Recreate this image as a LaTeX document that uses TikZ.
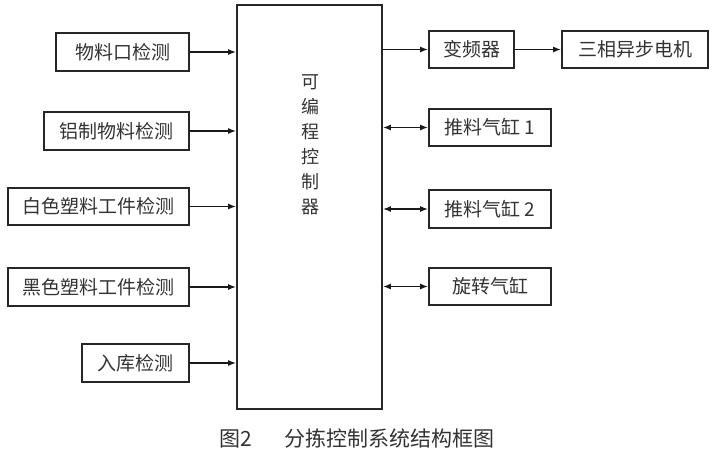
\documentclass[tikz,border=0pt]{standalone}
\usepackage{fontspec}
\setmainfont{Noto Sans CJK SC}
\usetikzlibrary{arrows.meta}
\tikzset{
  blk/.style={draw=black!85, line width=1.8pt, fill=white, inner sep=0pt, text=black!80, font=\fontsize{19}{21}\selectfont},
  sig/.style={line width=1.3pt, draw=black!90, -{Latex[length=8pt,width=6pt]}},
  bidir/.style={line width=1.3pt, draw=black!90, {Latex[length=8pt,width=6pt]}-{Latex[length=8pt,width=6pt]}}
}
\begin{document}
\begin{tikzpicture}[x=1pt,y=-1pt]
\useasboundingbox (0,0) rectangle (717,455);
\fill[white] (0,0) rectangle (717,455);
% central controller
\node[blk, minimum width=145pt, minimum height=404pt] (ctl) at (309.5,207) {};
\node[text=black!80, font=\fontsize{18}{25}\selectfont, align=center] (ctltxt) at (310,145) {可\\编\\程\\控\\制\\器};
% left inputs
\node[blk, minimum width=133pt, minimum height=38pt] (l1) at (122.5,52) {物料口检测};
\node[blk, minimum width=145pt, minimum height=38pt] (l2) at (116.5,131) {铝制物料检测};
\node[blk, minimum width=181pt, minimum height=37pt] (l3) at (98.5,206.5) {白色塑料工件检测};
\node[blk, minimum width=181pt, minimum height=38pt] (l4) at (98.5,287) {黑色塑料工件检测};
\node[blk, minimum width=107pt, minimum height=38pt] (l5) at (135.5,363) {入库检测};
% right outputs
\node[blk, minimum width=85pt, minimum height=37pt] (r1) at (471.5,49.5) {变频器};
\node[blk, minimum width=146pt, minimum height=37pt] (r2) at (635,49.5) {三相异步电机};
\node[blk, minimum width=122pt, minimum height=37pt] (r3) at (490,127.5) {推料气缸 1};
\node[blk, minimum width=122pt, minimum height=38pt] (r4) at (490,209) {推料气缸 2};
\node[blk, minimum width=122pt, minimum height=37pt] (r5) at (490,286.5) {旋转气缸};
% connectors
\foreach \n in {l1,l2,l3,l4,l5}
  \draw[sig] (\n.east) -- (\n.east -| ctl.west);
\draw[sig] (r1.west -| ctl.east) -- (r1.west);
\draw[sig] (r1.east) -- (r2.west);
\foreach \n in {r3,r4,r5}
  \draw[bidir] (\n.west -| ctl.east) -- (\n.west);
% caption
\node[text=black!80, font=\fontsize{21}{23}\selectfont] (cap) at (357,438) {图2\hspace{1.5em}分拣控制系统结构框图};
\end{tikzpicture}
\end{document}
